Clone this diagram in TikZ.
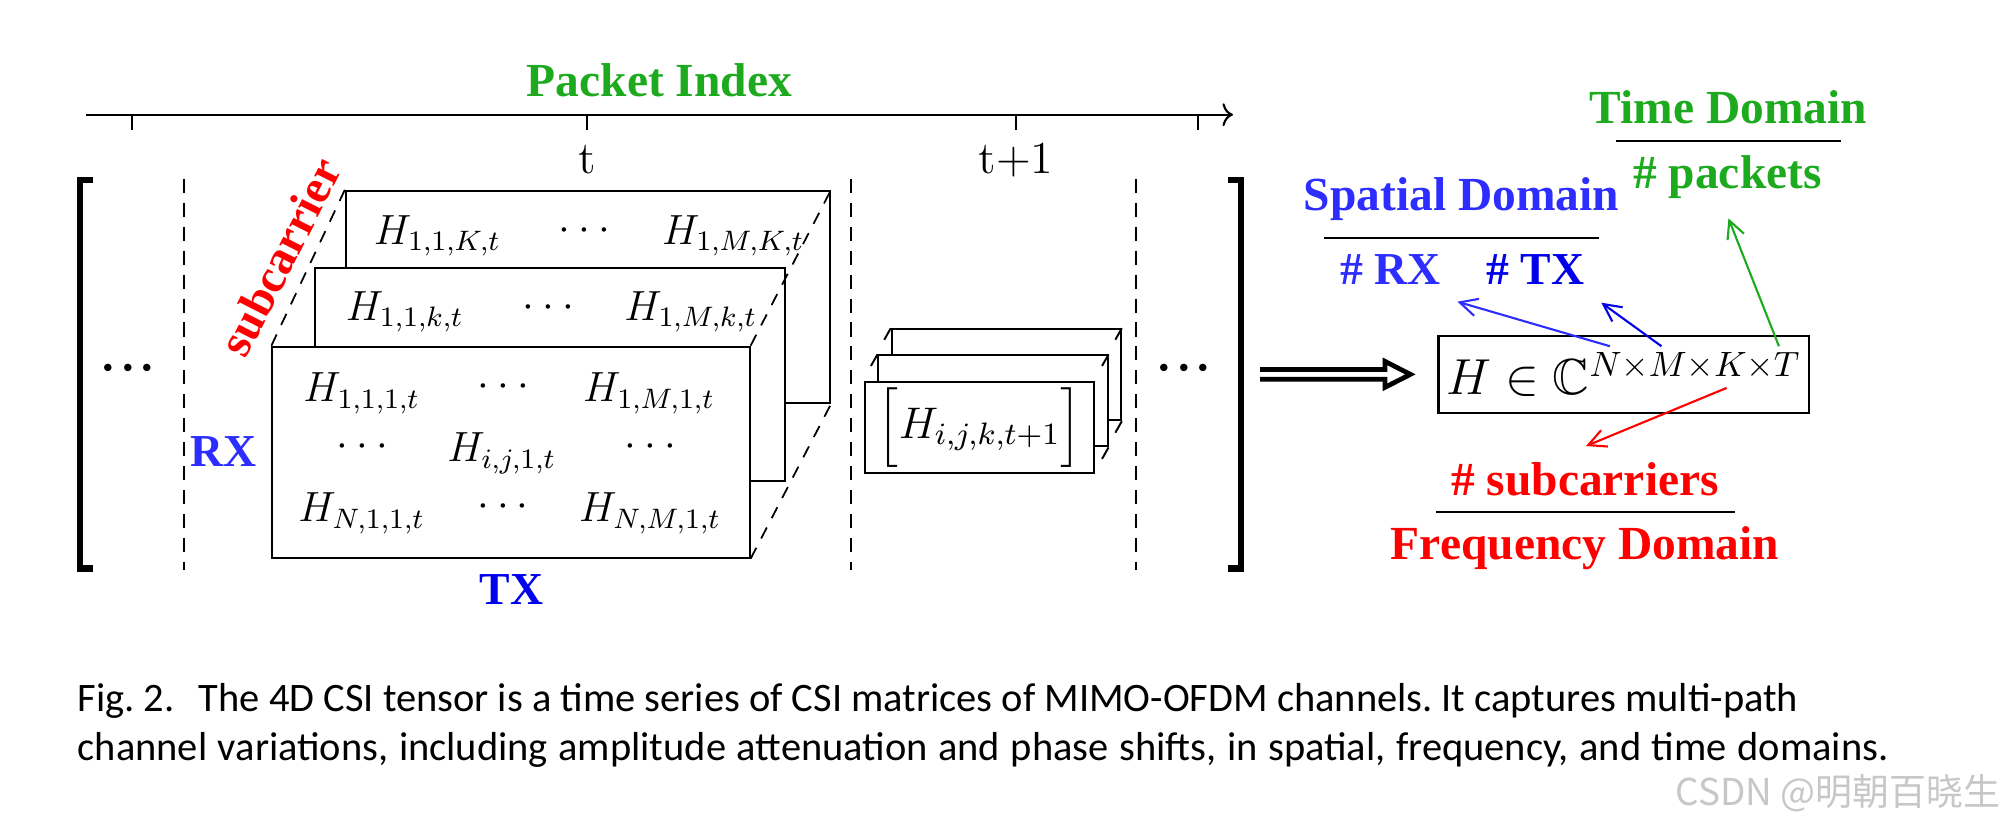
\documentclass[tikz,border=0pt]{standalone}
\usepackage{fix-cm}
\usepackage{amsmath,amssymb}
\usepackage{fontspec}
\newfontfamily\lblfont{Liberation Serif}
\newfontfamily\capfont{Carlito}
\newfontfamily\cjkfont{Noto Sans CJK SC}
\usetikzlibrary{arrows.meta,calc}

\definecolor{pkgreen}{RGB}{30,170,30}
\definecolor{rxblue}{RGB}{45,45,255}
\definecolor{txblue}{RGB}{0,0,235}
\definecolor{scred}{RGB}{255,0,0}

\newcommand{\mdots}{\mathinner{\mathord{\cdot}\mkern3.5mu\mathord{\cdot}\mkern3.5mu\mathord{\cdot}}}
\newcommand{\bdots}{\mathinner{\mathord{\cdot}\mathord{\cdot}\mathord{\cdot}}}

\tikzset{
  lbl/.style={font=\lblfont\bfseries\fontsize{13.5}{16}\selectfont,inner sep=0pt,anchor=base},
  lblsm/.style={font=\lblfont\bfseries\fontsize{13}{15}\selectfont,inner sep=0pt,anchor=base},
  tlbl/.style={font=\fontsize{13}{15}\selectfont,inner sep=0pt,anchor=base},
  ent/.style={font=\fontsize{12}{14}\selectfont,inner sep=0pt,anchor=base},
  mdot/.style={font=\fontsize{12}{14}\selectfont,inner sep=0pt},
  bigdot/.style={font=\fontsize{20}{24}\selectfont,inner sep=0pt},
  slice/.style={draw,fill=white,line width=0.55pt,inner sep=0pt},
  pkaxis/.style={line width=0.6pt},
  vsep/.style={dash pattern=on 4pt off 2.8pt,line width=0.5pt},
  depthline/.style={dash pattern=on 3.5pt off 3pt,line width=0.5pt},
  brk/.style={line width=1.9pt,line cap=butt,line join=miter},
  fracrule/.style={line width=0.6pt},
  conn/.style={line width=0.6pt,-{Straight Barb[length=5pt,width=5pt]}},
  capt/.style={font=\capfont\fontsize{11.5}{14}\selectfont\frenchspacing,inner sep=0pt,anchor=base west},
}

\begin{document}
\begin{tikzpicture}[x=0.01cm,y=-0.01cm]
  \useasboundingbox (0,0) rectangle (2009,833);

  % packet index axis
  \coordinate (ax0) at (86,114.7);
  \coordinate (ax1) at (1233,114.7);
  \draw[pkaxis,-{Computer Modern Rightarrow[length=3pt,width=6.5pt]}] (ax0) -- (ax1);
  \foreach \x in {132,587,1016,1198} {
    \draw[pkaxis] (\x,114.7) -- (\x,130);
  }
  \node[lbl,pkgreen] (pkt) at (659.5,96.7) {Packet Index};
  \node[tlbl] (tcur) at (587,173.3) {t};
  \node[tlbl] (tnext) at (1016,173.3) {t+1};

  % brackets and separators
  \draw[brk] (92.7,180) -- (80,180) -- (80,568.7) -- (92.7,568.7);
  \draw[brk] (1227.7,180) -- (1241,180) -- (1241,568.7) -- (1227.7,568.7);
  \foreach \x in {184,851,1136} {
    \draw[vsep] (\x,179) -- (\x,570);
  }
  \node[bigdot] (ldots) at (128.3,370) {$\bdots$};
  \node[bigdot] (rdots) at (1184.2,369.5) {$\bdots$};

  % CSI slices at time t
  \node[slice,minimum width=4.84cm,minimum height=2.12cm] (sK) at (588,296.7) {};
  \node[slice,minimum width=4.70cm,minimum height=2.12cm] (sk) at (550,374.5) {};
  \node[slice,minimum width=4.77cm,minimum height=2.11cm] (s1) at (511,452.2) {};

  \node[ent] (eK1) at (437.5,244) {$H_{1,1,K,t}$};
  \node[mdot] (eK2) at (584.2,231) {$\mdots$};
  \node[ent] (eK3) at (733.3,244) {$H_{1,M,K,t}$};
  \node[ent] (ek1) at (404.7,320) {$H_{1,1,k,t}$};
  \node[mdot] (ek2) at (548.3,308.3) {$\mdots$};
  \node[ent] (ek3) at (690.8,320) {$H_{1,M,k,t}$};

  \foreach \x/\y/\e [count=\i] in {361.7/401.7/{H_{1,1,1,t}},649/401.7/{H_{1,M,1,t}},
      501.7/461.7/{H_{i,j,1,t}},361.7/521.7/{H_{N,1,1,t}},650/521.7/{H_{N,M,1,t}}} {
    \node[ent] (e\i) at (\x,\y) {$\e$};
  }
  \foreach \x/\y [count=\i] in {503.3/386.7,362.5/447.3,650.7/447.3,503/507.3} {
    \node[mdot] (d\i) at (\x,\y) {$\mdots$};
  }

  \draw[depthline] (s1.north west) -- (sK.north west);
  \draw[depthline] (s1.north east) -- (sK.north east);
  \draw[depthline] (s1.south east) -- (sK.south east);

  \node[font=\lblfont\bfseries\fontsize{13.5}{16}\selectfont,text=scred,inner sep=0pt,rotate=63] (subc) at (280,257) {subcarrier};
  \node[lblsm,rxblue] (rx) at (223.3,466.7) {RX};
  \node[lblsm,txblue] (tx) at (511.7,604) {TX};

  % slices at time t+1
  \node[slice,minimum width=2.29cm,minimum height=0.91cm] (sb3) at (1006.3,374.7) {};
  \node[slice,minimum width=2.29cm,minimum height=0.91cm] (sb2) at (993,400.9) {};
  \node[slice,minimum width=2.29cm,minimum height=0.91cm,font=\fontsize{12.6}{14}\selectfont] (sb1) at (979.7,427.1) {$\Big[H_{i,j,k,t+1}\Big]$};
  \foreach \b in {sb3,sb2} {
    \foreach \a in {north west,north east,south east} {
      \draw[line width=0.55pt] (\b.\a) -- ++(-6.5,11.5);
    }
  }

  % tensor
  \node[draw,line width=0.6pt,minimum width=3.70cm,minimum height=0.767cm,inner sep=0pt,
        font=\fontsize{14.4}{17}\selectfont] (hbox) at (1623.6,374.35) {$H\in\mathbb{C}^{N\times M\times K\times T}$};
  \coordinate (dstart) at (1260,374.3);
  \coordinate (dtip) at ([xshift=-0.27cm]hbox.west);
  \draw[line width=1.35pt,line join=miter] ($(dstart)+(0,-4.8)$) -- ($(dtip)+(-25.5,-4.8)$) -- ($(dtip)+(-25.5,-13)$)
    -- (dtip) -- ($(dtip)+(-25.5,13)$) -- ($(dtip)+(-25.5,4.9)$) -- ($(dstart)+(0,4.9)$);

  \node[lbl,rxblue] (spat) at (1461.6,210) {Spatial Domain};
  \draw[fracrule] (1323.9,238.3) -- (1599.4,238.3);
  \node[lblsm,rxblue] (nrx) at (1390.5,284) {\# RX};
  \node[lblsm,txblue] (ntx) at (1535.3,284) {\# TX};
  \node[lbl,pkgreen] (tdom) at (1728.4,123.3) {Time Domain};
  \draw[fracrule] (1616,140.7) -- (1840.5,140.7);
  \node[lbl,pkgreen] (npk) at (1727.5,188.3) {\# packets};
  \node[lbl,scred] (nsc) at (1585,495.7) {\# subcarriers};
  \draw[fracrule] (1436,511.7) -- (1735,511.7);
  \node[lbl,scred] (fdom) at (1585,559) {Frequency Domain};

  \coordinate (rxtip) at (1457.4,301.7);
  \coordinate (txtip) at (1601.3,302.7);
  \coordinate (pktip) at (1728.4,218.3);
  \coordinate (sctip) at (1586,446);
  \draw[conn,rxblue] ([shift={(172.5,11.3)}]hbox.north west) -- (rxtip);
  \draw[conn,txblue] ([shift={(224,11.3)}]hbox.north west) -- (txtip);
  \draw[conn,pkgreen] ([shift={(341.5,11.3)}]hbox.north west) -- (pktip);
  \draw[conn,scred] ([shift={(289.2,53)}]hbox.north west) -- (sctip);

  % caption
  \node[capt] (cap1) at (77,711) {Fig.~2.\hspace{0.6em}The 4D CSI tensor is a time series of CSI matrices of MIMO-OFDM channels. It captures multi-path};
  \node[capt] (cap2) at (77,760.7) {\makebox[18.1cm][s]{channel variations, including amplitude attenuation and phase shifts, in spatial, frequency, and time domains.}};
  \node[font=\cjkfont\fontsize{10.5}{12}\selectfont,text=black!22,inner sep=0pt,anchor=base east] (wmark) at (2001,805) {CSDN @明朝百晓生};
\end{tikzpicture}
\end{document}
